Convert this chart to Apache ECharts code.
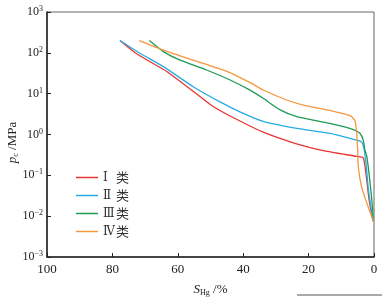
<!DOCTYPE html>
<html>
<head>
<meta charset="utf-8">
<script src="https://cdn.jsdelivr.net/npm/echarts@6/dist/echarts.min.js"></script>
<style>
  html, body { margin: 0; padding: 0; background: #fff; }
  #main { width: 391px; height: 303px; }
</style>
</head>
<body>
<div id="main"></div>
<script>
// 图例名称
const names = ['Ⅰ类', 'Ⅱ类', 'Ⅲ类', 'Ⅳ类'];
const colors = ['#e8352f', '#25ace4', '#1e9a55', '#f5973d'];

// 各类曲线：进汞饱和度 SHg(%) 与 毛管压力 pc(MPa)
const sI = [77.7, 72.6, 63.4, 53.2, 49.1, 41.0, 33.3, 24.2, 15.9, 5.3, 3.3, 2.4, 1.5, 0.3];
const pI = [200, 95, 35, 8.5, 4.8, 2.14, 1.09, 0.61, 0.41, 0.29, 0.27, 0.10, 0.025, 0.0076];

const sII = [77.7, 71.6, 64.4, 55.3, 47.1, 41.0, 33.9, 23.6, 13.5, 5.3, 3.8, 3.1, 2.4, 1.7, 0.3];
const pII = [200, 98, 46, 14.8, 6.3, 3.6, 2.1, 1.41, 1.07, 0.73, 0.66, 0.47, 0.18, 0.044, 0.0076];

const sIII = [68.7, 64.4, 59.3, 51.2, 44.0, 37.9, 33.9, 28.7, 23.6, 13.5, 6.3, 4.3, 3.3, 2.8, 2.2, 1.2, 0.4, 0.3];
const pIII = [200, 107, 66, 38, 21.6, 12.2, 7.7, 4.0, 2.74, 1.87, 1.32, 1.07, 0.73, 0.42, 0.29, 0.065, 0.014, 0.0076];

const sIV = [71.8, 64.4, 55.3, 45.0, 37.9, 33.9, 26.7, 21.6, 13.5, 7.3, 5.8, 5.3, 5.0, 4.8, 3.8, 2.2, 0.2];
const pIV = [200, 117, 66, 35, 18.6, 12.3, 7.0, 5.25, 3.9, 2.9, 2.14, 1.1, 0.42, 0.16, 0.052, 0.021, 0.0076];

const sData = [sI, sII, sIII, sIV];
const pData = [pI, pII, pIII, pIV];

const chart = echarts.init(document.getElementById('main'));
const serif = 'Liberation Serif, DejaVu Serif, serif';

const series = names.map((n, i) => ({
  name: n,
  type: 'line',
  data: sData[i].map((s, k) => [s, pData[i][k]]),
  symbol: 'none',
  smooth: 0.2,
  lineStyle: { width: 1.3, color: colors[i] },
  itemStyle: { color: colors[i] }
}));

const nameRich = {
  i: { fontFamily: serif, fontStyle: 'italic', fontSize: 13, color: '#222' },
  sub: { fontFamily: serif, fontSize: 8, color: '#222', verticalAlign: 'bottom', lineHeight: 14 },
  n: { fontFamily: serif, fontSize: 13, color: '#222' }
};

const option = {
  animation: false,
  grid: {
    left: 47, right: 17, top: 12, bottom: 46,
    outerBoundsMode: 'none', containLabel: false,
    show: true, borderColor: '#666', borderWidth: 1
  },
  legend: {
    orient: 'vertical',
    left: 71, top: 166,
    icon: 'rect',
    itemWidth: 22, itemHeight: 1.5, itemGap: 5,
    data: names,
    formatter: n => '{r|' + n.slice(0, -1) + '}{c|' + n.slice(-1) + '}',
    textStyle: {
      rich: {
        r: { fontFamily: 'DejaVu Serif, Liberation Serif, serif', fontSize: 12, color: '#333', width: 13, align: 'left', lineHeight: 14 },
        c: { fontFamily: 'Noto Sans CJK SC', fontSize: 13, color: '#333', lineHeight: 14 }
      }
    }
  },
  xAxis: {
    type: 'value', min: 0, max: 100, interval: 20, inverse: true,
    name: '{i|S}{sub|Hg}{n| /%}',
    nameLocation: 'middle', nameGap: 26, nameMoveOverlap: false,
    nameTextStyle: { rich: nameRich },
    axisLine: { onZero: false, lineStyle: { color: '#222', width: 1.5 } },
    axisTick: { inside: true, length: 4, lineStyle: { color: '#222' } },
    axisLabel: { fontFamily: serif, fontSize: 13, color: '#222', margin: 6 },
    splitLine: { show: false }
  },
  yAxis: {
    type: 'log', logBase: 10, min: 0.001, max: 1000,
    name: '{i|p}{sub|c}{n| /MPa}',
    nameLocation: 'middle', nameGap: 27, nameRotate: 90, nameMoveOverlap: false,
    nameTextStyle: { rich: nameRich, padding: [0, 16, 0, 0] },
    axisLine: { show: true, onZero: false, lineStyle: { color: '#222', width: 1.5 } },
    axisTick: { inside: true, length: 4, lineStyle: { color: '#222' } },
    minorTick: { show: false },
    axisLabel: {
      margin: 4,
      formatter: v => '{b|10}{s|' + String(Math.round(Math.log10(v))).replace('-', '−') + '}',
      rich: {
        b: { fontFamily: serif, fontSize: 12, color: '#222', lineHeight: 14 },
        s: { fontFamily: serif, fontSize: 8, color: '#222', verticalAlign: 'top', lineHeight: 14 }
      }
    },
    splitLine: { show: false }
  },
  graphic: [{
    type: 'line',
    shape: { x1: 297, y1: 295, x2: 382, y2: 295 },
    style: { stroke: '#555', lineWidth: 1 }
  }],
  series: series
};

chart.setOption(option);
</script>
</body>
</html>
